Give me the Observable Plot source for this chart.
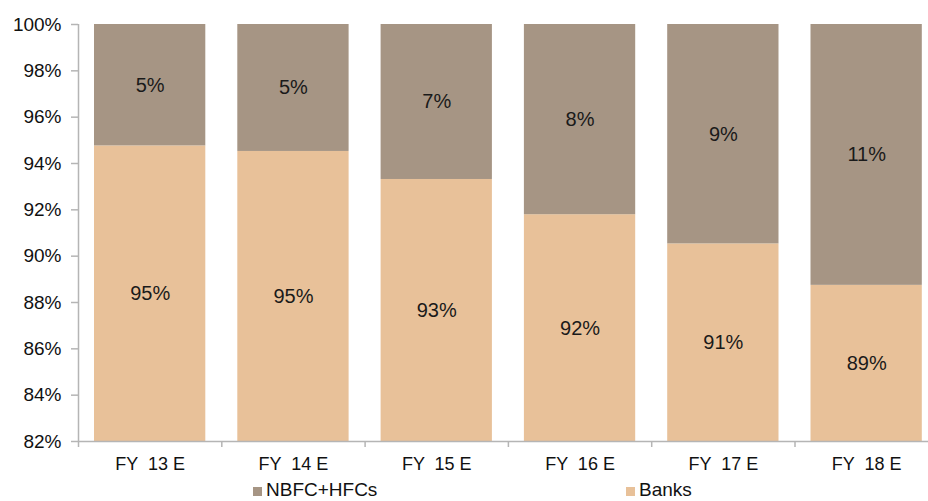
<!DOCTYPE html>
<html>
<head>
<meta charset="utf-8">
<script src="https://cdn.jsdelivr.net/npm/d3@7"></script>
<script src="https://cdn.jsdelivr.net/npm/@observablehq/plot@0.6"></script>
<style>
  html, body { margin: 0; padding: 0; background: #fff; overflow: hidden; }
  #wrap { position: relative; width: 928px; height: 501px; font-family: "Liberation Sans", Arial, sans-serif; }
  #wrap svg text { white-space: pre; }
  .leg { position: absolute; top: 480px; font-size: 19px; line-height: 19px; color: #111; white-space: nowrap; }
  .sw { position: absolute; top: 487px; width: 9px; height: 9px; }
</style>
</head>
<body>
<div id="wrap"></div>
<script>
const categories = ["FY  13 E", "FY  14 E", "FY  15 E", "FY  16 E", "FY  17 E", "FY  18 E"];
const banks = [94.76, 94.52, 93.31, 91.79, 90.53, 88.74];
const nbfc  = [5.24, 5.48, 6.69, 8.21, 9.47, 11.26];
const banksLabels = ["95%", "95%", "93%", "92%", "91%", "89%"];
const nbfcLabels  = ["5%", "5%", "7%", "8%", "9%", "11%"];
const yTicks = [82, 84, 86, 88, 90, 92, 94, 96, 98, 100];
const seriesNames = ["NBFC+HFCs", "Banks"];
const colors = { "NBFC+HFCs": "#A69584", "Banks": "#E8C199" };

const yMin = yTicks[0], yMax = yTicks[yTicks.length - 1];
const rows = categories.map((c, i) => ({i, c, banks: banks[i], nbfc: nbfc[i], bl: banksLabels[i], nl: nbfcLabels[i]}));

const plot = Plot.plot({
  width: 928,
  height: 480,
  marginTop: 24,
  marginBottom: 39,
  marginLeft: 78,
  marginRight: 0,
  style: { fontFamily: "Liberation Sans, Arial, sans-serif", fontSize: "18px", color: "#111", background: "transparent" },
  x: { type: "linear", domain: [0, categories.length], range: [78, 78 + 143.3 * categories.length] },
  y: { domain: [yMin, yMax] },
  marks: [
    Plot.rectY(rows, { x1: d => d.i, x2: d => d.i + 1, y1: yMin, y2: d => d.banks, fill: colors["Banks"], insetLeft: 16, insetRight: 16 }),
    Plot.rectY(rows, { x1: d => d.i, x2: d => d.i + 1, y1: d => d.banks, y2: d => d.banks + d.nbfc, fill: colors["NBFC+HFCs"], insetLeft: 16, insetRight: 16 }),
    Plot.text(rows, { x: d => d.i + 0.5, y: d => (yMin + d.banks) / 2, text: d => d.bl, fontSize: 20, fill: "#1a1a1a" }),
    Plot.text(rows, { x: d => d.i + 0.5, y: d => (d.banks + yMax) / 2, text: d => d.nl, fontSize: 20, fill: "#1a1a1a" }),
    Plot.ruleX([0], { stroke: "#b5b5b5", strokeWidth: 1.5 }),
    Plot.ruleY([yMin], { stroke: "#b5b5b5", strokeWidth: 1.5 }),
    Plot.axisY({ ticks: yTicks, tickFormat: d => d + "%", tickSize: 7, tickPadding: 10, stroke: "#b5b5b5", fill: "#111", strokeWidth: 1.5, fontSize: 19 }),
    Plot.axisX({ ticks: d3.range(categories.length + 1), tickFormat: () => "", tickSize: 6, stroke: "#b5b5b5", strokeWidth: 1.5 }),
    Plot.axisX({ ticks: categories.map((c, i) => i + 0.5), tickFormat: v => categories[Math.floor(v)], tickSize: 0, tickPadding: 16, fill: "#111" })
  ]
});

const wrap = document.getElementById("wrap");
wrap.appendChild(plot);

const legendPos = [{ name: seriesNames[0], sx: 253, tx: 266 }, { name: seriesNames[1], sx: 626, tx: 639 }];
for (const p of legendPos) {
  const sw = document.createElement("div");
  sw.className = "sw";
  sw.style.left = p.sx + "px";
  sw.style.background = colors[p.name];
  wrap.appendChild(sw);
  const t = document.createElement("div");
  t.className = "leg";
  t.style.left = p.tx + "px";
  t.textContent = p.name;
  wrap.appendChild(t);
}
</script>
</body>
</html>
